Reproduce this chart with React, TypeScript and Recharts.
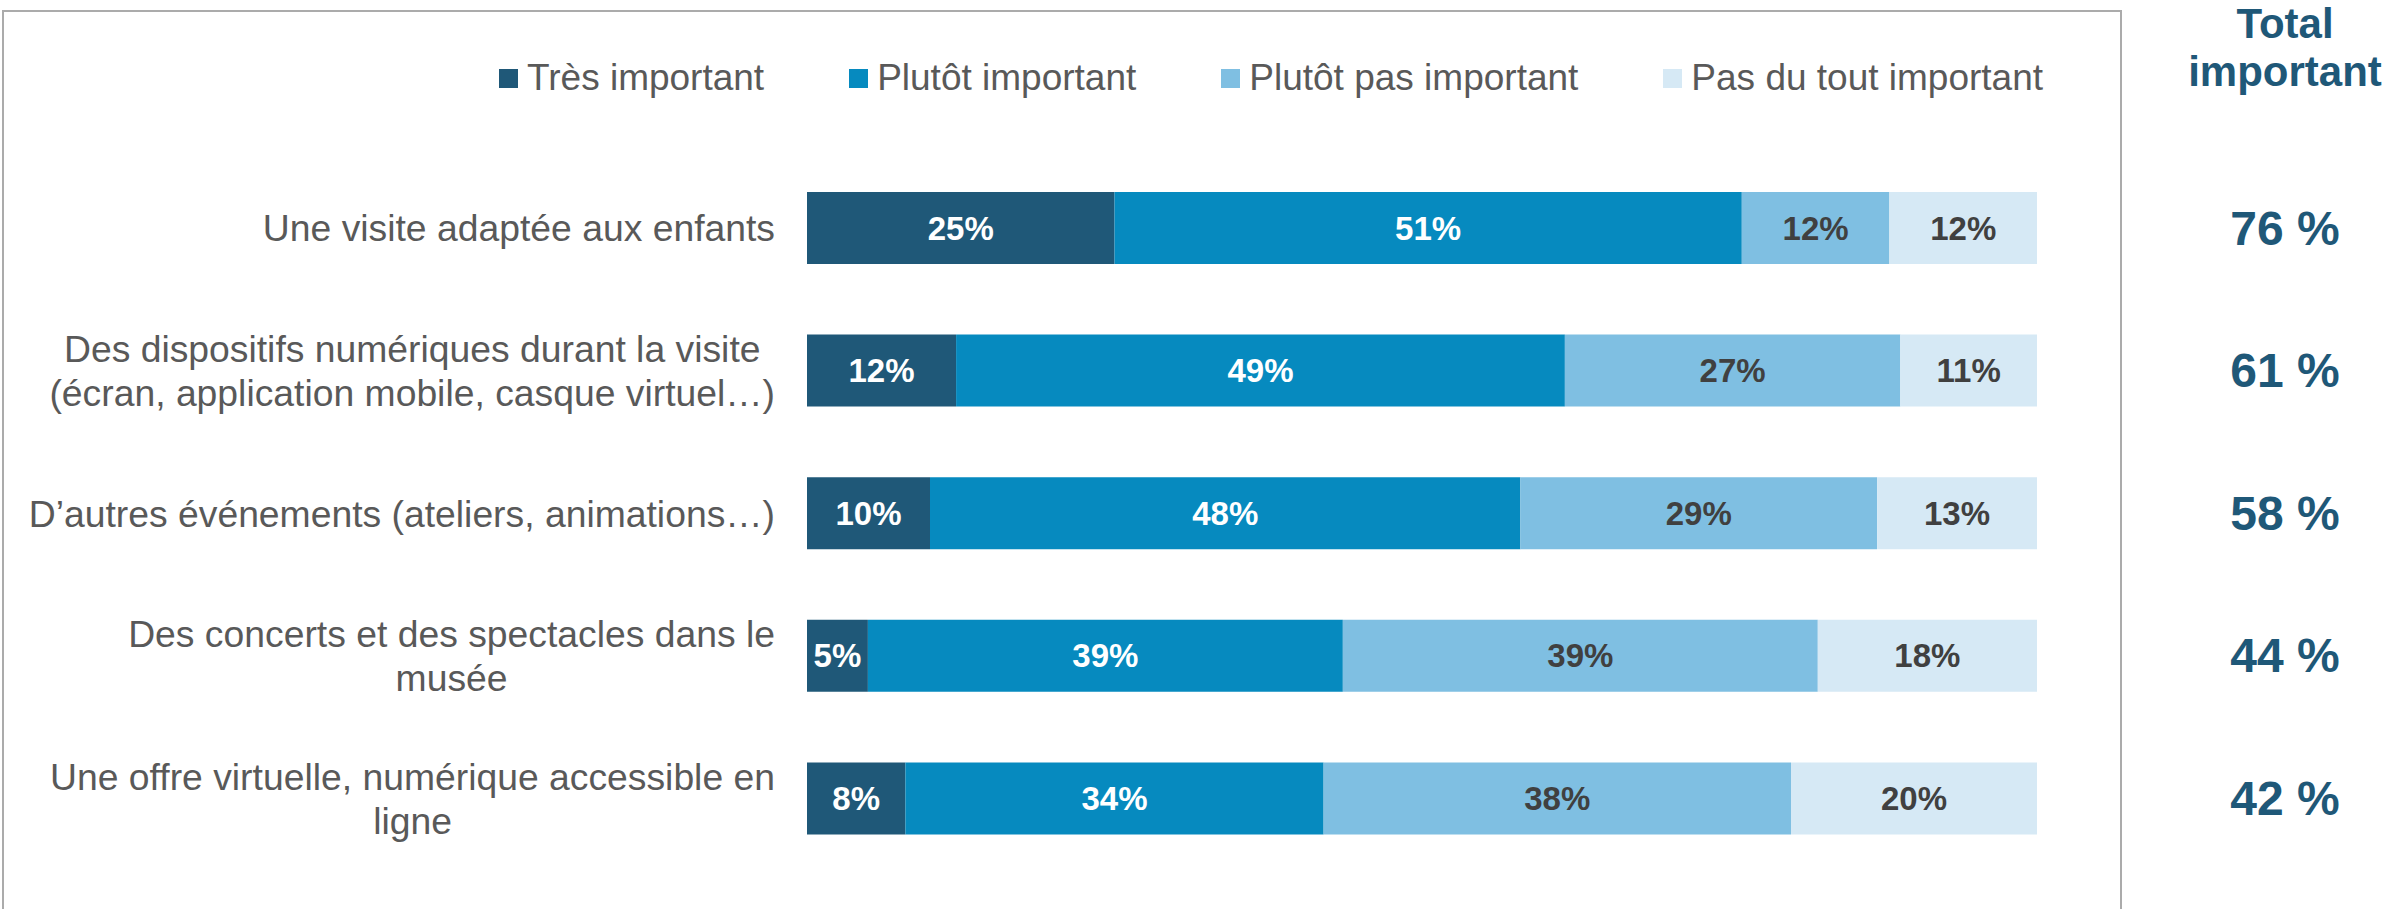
import React from 'react';
import { BarChart, Bar, XAxis, YAxis, Legend, LabelList } from 'recharts';

// survey rows, top to bottom
const categories = [
  'Une visite adaptée aux enfants',
  'Des dispositifs numériques durant la visite\n(écran, application mobile, casque virtuel…)',
  'D’autres événements (ateliers, animations…)',
  'Des concerts et des spectacles dans le\nmusée',
  'Une offre virtuelle, numérique accessible en\nligne',
];

const tresImportant = [25, 12, 10, 5, 8];
const plutotImportant = [51, 49, 48, 39, 34];
const plutotPasImportant = [12, 27, 29, 39, 38];
const pasDuToutImportant = [12, 11, 13, 18, 20];
const totalImportant = [76, 61, 58, 44, 42];

const seriesNames = ['Très important', 'Plutôt important', 'Plutôt pas important', 'Pas du tout important'];
const seriesValues = [tresImportant, plutotImportant, plutotPasImportant, pasDuToutImportant];
const seriesColors = ['#1F5878', '#068ABF', '#7FBFE2', '#D6E9F5'];
const labelColors = ['#FFFFFF', '#FFFFFF', '#404040', '#404040'];

const FONT = '"Liberation Sans", Arial, sans-serif';
const TEXT_GREY = '#595959';
const TOTAL_BLUE = '#1F5878';

const data = categories.map((name, i) => ({
  name,
  s0: tresImportant[i],
  s1: plutotImportant[i],
  s2: plutotPasImportant[i],
  s3: pasDuToutImportant[i],
}));

// used to center the wrapped labels inside a right-aligned block
const measureCtx = typeof document !== 'undefined' ? document.createElement('canvas').getContext('2d') : null;
const textWidth = (s: string, font: string) => {
  if (!measureCtx) return s.length * 17;
  measureCtx.font = font;
  return measureCtx.measureText(s).width;
};

const CategoryTick = (props: any) => {
  const { x, y, payload } = props;
  const lines = String(payload.value).split('\n');
  const widest = Math.max(...lines.map((l) => textWidth(l, `37.3px ${FONT}`)));
  const cx = x - widest / 2;
  const lineGap = 44;
  const startY = y - ((lines.length - 1) * lineGap) / 2;
  return (
    <g>
      {lines.map((l, i) => (
        <text key={i} x={cx} y={startY + i * lineGap} textAnchor="middle" dominantBaseline="central"
          fontSize={37.3} fill={TEXT_GREY} fontFamily={FONT}>
          {l}
        </text>
      ))}
    </g>
  );
};

const makeBarLabel = (k: number) => (props: any) => {
  const { x, y, width, height, index } = props;
  return (
    <text x={Number(x) + Number(width) / 2} y={Number(y) + Number(height) / 2} textAnchor="middle"
      dominantBaseline="central" fontSize={33} fontWeight="bold" fill={labelColors[k]} fontFamily={FONT}>
      {seriesValues[k][index]}%
    </text>
  );
};

const TotalLabel = (props: any) => {
  const { x, y, width, height, index } = props;
  return (
    <text x={Number(x) + Number(width) + 248} y={Number(y) + Number(height) / 2} textAnchor="middle"
      dominantBaseline="central" fontSize={48} fontWeight="bold" fill={TOTAL_BLUE} fontFamily={FONT}>
      {totalImportant[index]} %
    </text>
  );
};

const renderLegend = () => (
  <div style={{ display: 'flex', alignItems: 'center', gap: 85, whiteSpace: 'nowrap', fontFamily: FONT }}>
    {seriesNames.map((n, i) => (
      <div key={n} style={{ display: 'flex', alignItems: 'center', gap: 9 }}>
        <span style={{ width: 19, height: 19, background: seriesColors[i], display: 'inline-block' }} />
        <span style={{ fontSize: 37, lineHeight: '36px', color: TEXT_GREY }}>{n}</span>
      </div>
    ))}
  </div>
);

export default function App() {
  return (
    <div style={{ position: 'absolute', left: 0, top: 0, width: 2389, height: 909, overflow: 'hidden', background: '#fff', fontFamily: FONT }}>
      <div style={{ position: 'absolute', left: 2, top: 10, width: 2116, height: 940, border: '2px solid #ABABAB' }} />
      <div style={{ position: 'absolute', left: 2135, top: 0, width: 300, textAlign: 'center', fontSize: 42,
        lineHeight: '48px', fontWeight: 'bold', color: TOTAL_BLUE }}>
        Total<br />important
      </div>
      <div style={{ position: 'absolute', left: 0, top: 0 }}>
        <BarChart width={2389} height={909} data={data} layout="vertical" stackOffset="expand"
          margin={{ top: 157, right: 352, bottom: 39, left: 0 }}>
          <XAxis type="number" hide />
          <YAxis type="category" dataKey="name" width={807} axisLine={false} tickLine={false}
            tickSize={0} tickMargin={32} tick={<CategoryTick />} interval={0} />
          <Legend layout="horizontal" verticalAlign="middle" content={renderLegend}
            wrapperStyle={{ top: 60, left: 499, width: 'auto', height: 'auto' }} />
          {seriesNames.map((n, k) => (
            <Bar key={n} dataKey={`s${k}`} name={n} stackId="a" fill={seriesColors[k]} barSize={72}
              isAnimationActive={false}>
              <LabelList content={makeBarLabel(k)} />
              {k === 3 && <LabelList content={<TotalLabel />} />}
            </Bar>
          ))}
        </BarChart>
      </div>
    </div>
  );
}
